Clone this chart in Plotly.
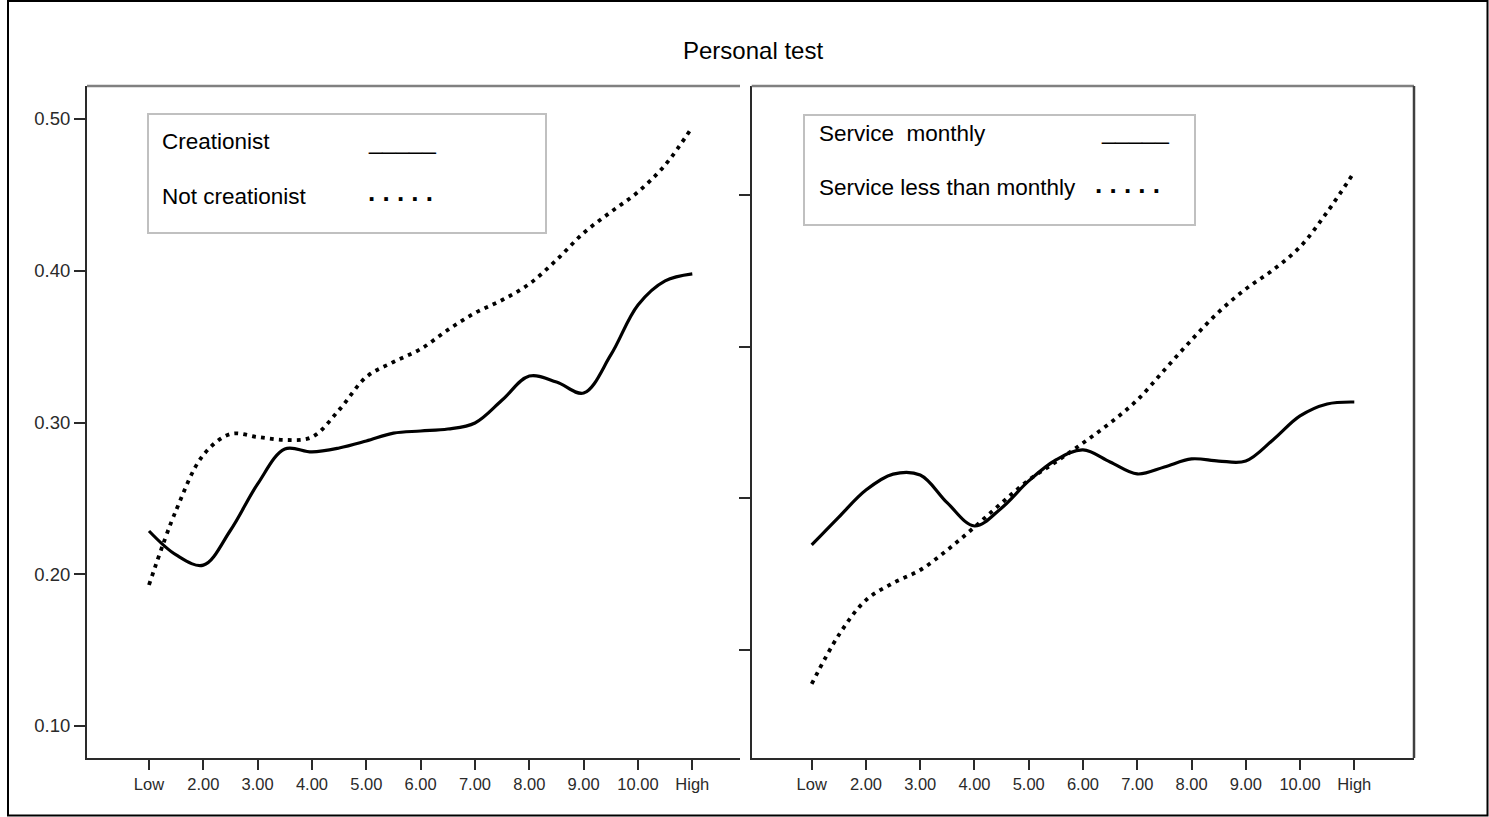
import plotly.graph_objects as go

# ---- data -------------------------------------------------------------
x_pos = [1, 1.5, 2, 2.5, 3, 3.5, 4, 4.5, 5, 5.5, 6, 6.5, 7, 7.5, 8, 8.5, 9, 9.5, 10, 10.5, 11]
tick_vals = [1, 2, 3, 4, 5, 6, 7, 8, 9, 10, 11]
tick_text = ["Low", "2.00", "3.00", "4.00", "5.00", "6.00", "7.00", "8.00", "9.00", "10.00", "High"]

creationist = [0.2285, 0.2127, 0.2060, 0.2290, 0.2595, 0.2825, 0.2806, 0.2832, 0.2878, 0.2930,
               0.2944, 0.2957, 0.2997, 0.3148, 0.3306, 0.3267, 0.3194, 0.3445, 0.3774, 0.3933, 0.3979]
not_creationist = [0.1929, 0.2423, 0.2786, 0.2924, 0.2904, 0.2885, 0.2904, 0.3083, 0.3300, 0.3399,
                   0.3484, 0.3610, 0.3722, 0.3807, 0.3913, 0.4071, 0.4249, 0.4387, 0.4519, 0.4697, 0.4947]

service_monthly = [0.2193, 0.2377, 0.2555, 0.2660, 0.2654, 0.2470, 0.2318, 0.2437, 0.2615, 0.2753,
                   0.2819, 0.2740, 0.2661, 0.2707, 0.2760, 0.2746, 0.2746, 0.2885, 0.3043, 0.3122, 0.3135]
service_less = [0.1277, 0.1600, 0.1830, 0.1942, 0.2028, 0.2160, 0.2311, 0.2470, 0.2621, 0.2740,
                0.2865, 0.2997, 0.3148, 0.3346, 0.3544, 0.3728, 0.3880, 0.4005, 0.4157, 0.4387, 0.4651]

left_y_ticks = [0.10, 0.20, 0.30, 0.40, 0.50]
left_y_text = ["0.10", "0.20", "0.30", "0.40", "0.50"]
right_y_ticks = [0.15, 0.25, 0.35, 0.45]

# ---- page geometry ----------------------------------------------------
W, H = 1489, 817
FONT = "Liberation Sans, Arial, sans-serif"


def px(x):
    return x / W


def py(y):
    return 1 - y / H


fig = go.Figure()

solid = dict(color="black", width=3.2, shape="spline", smoothing=1.0)
dotted = dict(color="black", width=3.8, shape="spline", smoothing=1.0, dash="3.8px,5.2px")

fig.add_trace(go.Scatter(x=x_pos, y=creationist, mode="lines", line=solid,
                         xaxis="x", yaxis="y", name="Creationist", showlegend=False))
fig.add_trace(go.Scatter(x=x_pos, y=not_creationist, mode="lines", line=dotted,
                         xaxis="x", yaxis="y", name="Not creationist", showlegend=False))
fig.add_trace(go.Scatter(x=x_pos, y=service_monthly, mode="lines", line=solid,
                         xaxis="x2", yaxis="y2", name="Service monthly", showlegend=False))
fig.add_trace(go.Scatter(x=x_pos, y=service_less, mode="lines", line=dotted,
                         xaxis="x2", yaxis="y2", name="Service less than monthly", showlegend=False))

y_range = [0.5 - (758 - 119) / 1517.5, 0.5 + (119 - 86) / 1517.5]
y_dom = [py(758), py(86)]

axis_common = dict(showgrid=False, zeroline=False, showline=True, linecolor="#2a2a2a",
                   linewidth=2, ticks="outside", tickcolor="#2a2a2a", tickwidth=2,
                   tickfont=dict(family=FONT, size=16.5, color="#2a2a2a"))

fig.update_layout(
    width=W, height=H,
    margin=dict(l=0, r=0, t=0, b=0),
    paper_bgcolor="white", plot_bgcolor="white",
    showlegend=False,
    xaxis=dict(domain=[px(87), px(740)], range=[1 + (87 - 149) / 54.33, 1 + (740 - 149) / 54.33],
               tickvals=tick_vals, ticktext=tick_text, ticklen=10, anchor="y", **axis_common),
    yaxis=dict(domain=y_dom, range=y_range, tickvals=left_y_ticks, ticktext=left_y_text,
               ticklen=11, anchor="x",
               **{**axis_common, "tickfont": dict(family=FONT, size=18.5, color="#2a2a2a")}),
    xaxis2=dict(domain=[px(751.7), px(1414)], range=[1 + (751.7 - 811.7) / 54.26, 1 + (1414 - 811.7) / 54.26],
                tickvals=tick_vals, ticktext=tick_text, ticklen=10, anchor="y2", **axis_common),
    yaxis2=dict(domain=y_dom, range=y_range, tickvals=right_y_ticks, showticklabels=False,
                ticklen=11, anchor="x2", **axis_common),
)

shapes = []
# outer frame
shapes.append(dict(type="rect", xref="paper", yref="paper", x0=px(8), x1=px(1487.5), y0=py(815.5), y1=py(1),
                   line=dict(color="black", width=2), fillcolor="rgba(0,0,0,0)", layer="above"))
# panel top edges and right edge of the second panel
shapes.append(dict(type="line", xref="paper", yref="paper", x0=px(87), x1=px(740), y0=py(86), y1=py(86),
                   line=dict(color="#808080", width=2.5)))
shapes.append(dict(type="line", xref="paper", yref="paper", x0=px(751.7), x1=px(1414), y0=py(86), y1=py(86),
                   line=dict(color="#808080", width=2.5)))
shapes.append(dict(type="line", xref="paper", yref="paper", x0=px(1414), x1=px(1414), y0=py(86), y1=py(758),
                   line=dict(color="#404040", width=2.5)))
# legend boxes
shapes.append(dict(type="rect", xref="paper", yref="paper", x0=px(148), x1=px(546), y0=py(233), y1=py(114),
                   line=dict(color="#c0c0c0", width=2), fillcolor="white"))
shapes.append(dict(type="rect", xref="paper", yref="paper", x0=px(804), x1=px(1195), y0=py(225), y1=py(115),
                   line=dict(color="#c0c0c0", width=2), fillcolor="white"))
fig.update_layout(shapes=shapes)

annotations = []


def text(x, y, s, size=22.5, anchor="left", bold=False):
    annotations.append(dict(xref="paper", yref="paper", x=px(x), y=py(y), text=("<b>%s</b>" % s) if bold else s,
                            showarrow=False, xanchor=anchor, yanchor="middle",
                            font=dict(family=FONT, size=size, color="black")))


text(753, 50, "Personal test", size=24, anchor="center")
text(160, 142, "Creationist")
text(160, 196, "Not creationist")
text(366, 140, "_____", size=24)
text(366, 192, ". . . . .", size=26, bold=True)
text(817, 133, "Service  monthly")
text(817, 188, "Service less than monthly")
text(1099, 131, "_____", size=24)
text(1093, 184, ". . . . .", size=26, bold=True)
fig.update_layout(annotations=annotations)

fig.write_html("out.html")
